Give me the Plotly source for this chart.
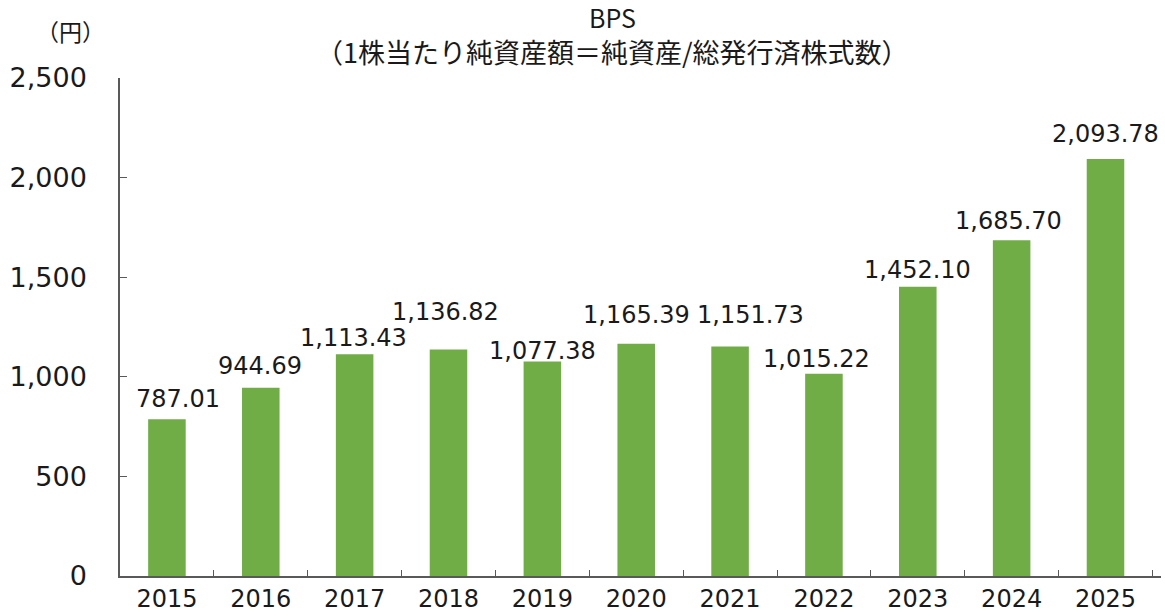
import plotly.graph_objects as go

years = ["2015", "2016", "2017", "2018", "2019", "2020", "2021", "2022", "2023", "2024", "2025"]
bps = [787.01, 944.69, 1113.43, 1136.82, 1077.38, 1165.39, 1151.73, 1015.22, 1452.10, 1685.70, 2093.78]
bps_labels = ["787.01", "944.69", "1,113.43", "1,136.82", "1,077.38", "1,165.39", "1,151.73",
              "1,015.22", "1,452.10", "1,685.70", "2,093.78"]

# pixel offsets of the value labels (layout only)
label_dx = [11, -1, -1, -3, 0, 0, 20, -7, 0, -3, 0]
label_dy = [20, 22, 16, 38, 10, 29, 32, 15, 17, 19, 25]

NUM_FONT = "DejaVu Sans, Noto Sans CJK JP"
JP_FONT = "Noto Sans CJK JP, DejaVu Sans"
BAR = "#70AD47"
AXIS = "#595959"
TXT = "#1a1a1a"

fig = go.Figure()
fig.add_trace(go.Bar(x=years, y=bps, width=0.4, marker=dict(color=BAR, line=dict(width=0)),
                     hoverinfo="x+y"))

for i, (v, t, dx, dy) in enumerate(zip(bps, bps_labels, label_dx, label_dy)):
    fig.add_annotation(x=i, y=v, text=t, showarrow=False, xanchor="center", yanchor="middle",
                       xshift=dx, yshift=dy, font=dict(family=NUM_FONT, size=24, color=TXT))

fig.add_annotation(xref="paper", yref="paper", x=0.5, y=1, xshift=-28, yshift=61,
                   text="BPS", showarrow=False, xanchor="center", yanchor="middle",
                   font=dict(family=JP_FONT, size=25, color=TXT))
fig.add_annotation(xref="paper", yref="paper", x=0.5, y=1, xshift=-28, yshift=27,
                   text="（1株当たり純資産額＝純資産/総発行済株式数）",
                   showarrow=False, xanchor="center", yanchor="middle",
                   font=dict(family=JP_FONT, size=27, color=TXT))
fig.add_annotation(xref="paper", yref="paper", x=0, y=1, xshift=-50, yshift=47, text="（円）",
                   showarrow=False, xanchor="center", yanchor="middle",
                   font=dict(family=JP_FONT, size=23, color=TXT))

fig.update_layout(
    width=1165, height=616,
    margin=dict(l=120, r=4, t=78, b=40, autoexpand=False),
    paper_bgcolor="white", plot_bgcolor="white",
    showlegend=False,
    bargap=0.6,
    xaxis=dict(type="category", categoryorder="array", categoryarray=years, automargin=False,
               tickson="boundaries", ticks="inside", ticklen=6,
               tickcolor=AXIS, showline=True, linecolor=AXIS, linewidth=1.5,
               showgrid=False, tickfont=dict(family=NUM_FONT, size=24, color=TXT)),
    yaxis=dict(range=[0, 2500], dtick=500, tickformat=",", ticks="inside", ticklen=7,
               automargin=False,
               tickcolor=AXIS, showline=True, linecolor=AXIS, linewidth=1.5,
               showgrid=False, zeroline=False, ticklabelstandoff=26,
               tickfont=dict(family=NUM_FONT, size=27, color=TXT)),
)

fig.write_html("out.html", config={"displayModeBar": False},
               post_script="document.body.style.margin='0';document.body.style.overflow='hidden';")
